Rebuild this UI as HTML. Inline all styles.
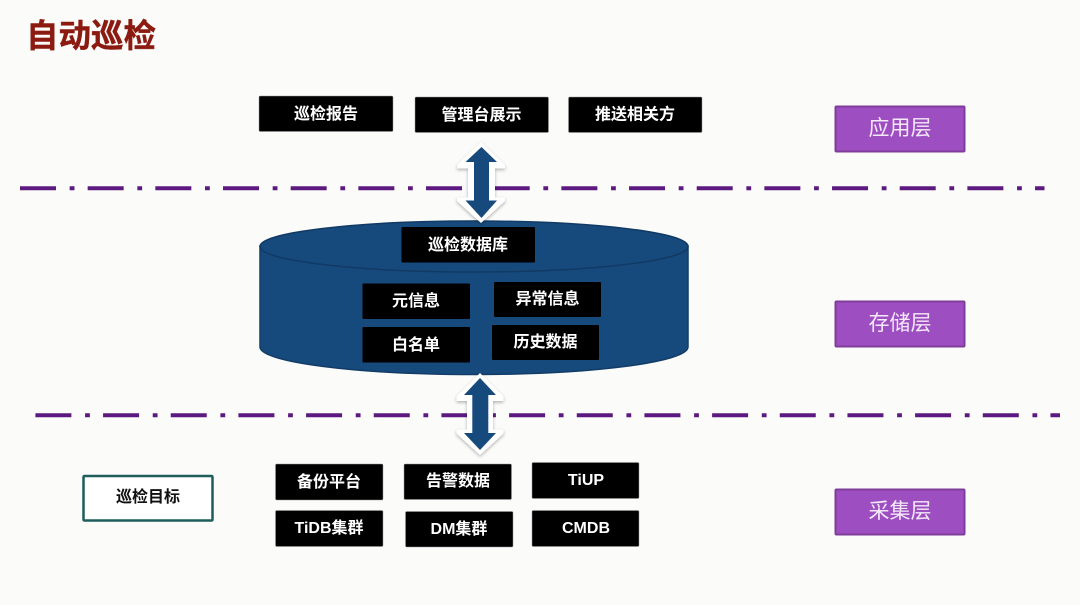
<!DOCTYPE html>
<html lang="zh">
<head>
<meta charset="utf-8">
<title>自动巡检</title>
<style>
html,body{margin:0;padding:0;background:#fbfbfa;}
svg{display:block;filter:blur(.3px);}
text{font-family:"Liberation Sans","Noto Sans CJK SC",sans-serif;}
.b{fill:#000;stroke:#9a9a9a;stroke-width:.5;}
.n{fill:#000;}
.t{fill:#fff;font-size:16px;font-weight:700;text-anchor:middle;}
.l{fill:#9d4fc1;stroke:#7f3d9b;stroke-width:2;}
.lt{fill:#f5e9f9;font-size:21px;text-anchor:middle;}
.d{stroke:#5c1a80;stroke-width:4;stroke-dasharray:36 13.67 4.8 13.2;fill:none;}
</style>
</head>
<body>
<svg width="1080" height="605" viewBox="0 0 1080 605" xmlns="http://www.w3.org/2000/svg">
<defs>
<filter id="s" x="-40%" y="-20%" width="180%" height="140%">
<feDropShadow dx="0" dy="1.500" stdDeviation="1.500" flood-color="#000" flood-opacity=".3"/>
</filter>
</defs>
<rect width="1080" height="605" fill="#fbfbfa"/>

<text x="26" y="47" font-size="32.500" font-weight="700" fill="#8b1a10" stroke="#8b1a10" stroke-width=".4">自动巡检</text>

<line class="d" x1="20" y1="188.300" x2="1044.500" y2="188.300"/>
<line class="d" x1="35.400" y1="415.300" x2="1060" y2="415.300"/>

<!-- cylinder -->
<path d="M260 246V347C260 362 356 374.500 474 374.500S688 362 688 347V246Z" fill="#174a7c" stroke="#123c68" stroke-width="1.500"/>
<ellipse cx="474" cy="246.500" rx="214" ry="25.500" fill="#174a7c" stroke="#113a65" stroke-width="1.500"/>

<!-- arrows -->
<path d="M481 142L505 165V168.500H495V197.500H505V201L481 223L457 201V197.500H468V168.500H457V165Z" fill="#fff" filter="url(#s)"/>
<path d="M481.500 147L497 162H489V200.500H497L481.500 218L465.500 200.500H474V162H465.500Z" fill="#174a7c"/>
<path d="M480 373L503.500 396.500V401H493V429.500H503.500V433.500L480 455L456.500 433.500V429.500H467V401H456.500V396.500Z" fill="#fff" filter="url(#s)"/>
<path d="M480 378L496 395H488.300V433H496L480 450L464 433H472.300V395H464Z" fill="#174a7c"/>

<!-- top row -->
<rect class="b" x="259" y="96" width="134" height="35.500" rx="1"/>
<text class="t" x="326" y="119">巡检报告</text>
<rect class="b" x="415" y="97" width="133.500" height="35.500" rx="1"/>
<text class="t" x="481.500" y="120">管理台展示</text>
<rect class="b" x="568.500" y="97" width="133.500" height="35.500" rx="1"/>
<text class="t" x="635" y="119.500">推送相关方</text>

<!-- storage -->
<rect class="n" x="401.500" y="227" width="133.500" height="35.500" rx="1"/>
<text class="t" x="468" y="250">巡检数据库</text>
<rect class="n" x="362.500" y="283.500" width="107.500" height="35.500" rx="1"/>
<text class="t" x="416" y="306">元信息</text>
<rect class="n" x="494" y="282" width="107" height="35" rx="1"/>
<text class="t" x="547.500" y="304">异常信息</text>
<rect class="n" x="362.500" y="327" width="107.500" height="35.500" rx="1"/>
<text class="t" x="416" y="350">白名单</text>
<rect class="n" x="492" y="325" width="107" height="35" rx="1"/>
<text class="t" x="545.500" y="347">历史数据</text>

<!-- target -->
<rect x="83.500" y="476" width="129" height="44.500" rx="1" fill="#fff" stroke="#1d5e5c" stroke-width="2.500"/>
<text x="148" y="502" font-size="16" font-weight="700" fill="#111" text-anchor="middle">巡检目标</text>

<!-- sources -->
<rect class="b" x="275.500" y="464" width="107.500" height="36" rx="1"/>
<text class="t" x="329" y="487">备份平台</text>
<rect class="b" x="275.500" y="510.500" width="107.500" height="36" rx="1"/>
<text class="t" x="329" y="533">TiDB集群</text>
<rect class="b" x="404" y="464" width="107.500" height="35.500" rx="1"/>
<text class="t" x="458" y="486">告警数据</text>
<rect class="b" x="405.500" y="511.500" width="107.500" height="35.500" rx="1"/>
<text class="t" x="459" y="534">DM集群</text>
<rect class="b" x="532" y="462.500" width="107" height="36" rx="1"/>
<text class="t" x="586" y="485">TiUP</text>
<rect class="b" x="532" y="510.500" width="107" height="36" rx="1"/>
<text class="t" x="586" y="533">CMDB</text>

<!-- layers -->
<rect class="l" x="835.500" y="106.500" width="129" height="45" rx="1"/>
<text class="lt" x="900" y="135">应用层</text>
<rect class="l" x="835.500" y="301.500" width="129" height="45" rx="1"/>
<text class="lt" x="900" y="330">存储层</text>
<rect class="l" x="835.500" y="489.500" width="129" height="45" rx="1"/>
<text class="lt" x="900" y="518">采集层</text>
</svg>
</body>
</html>
